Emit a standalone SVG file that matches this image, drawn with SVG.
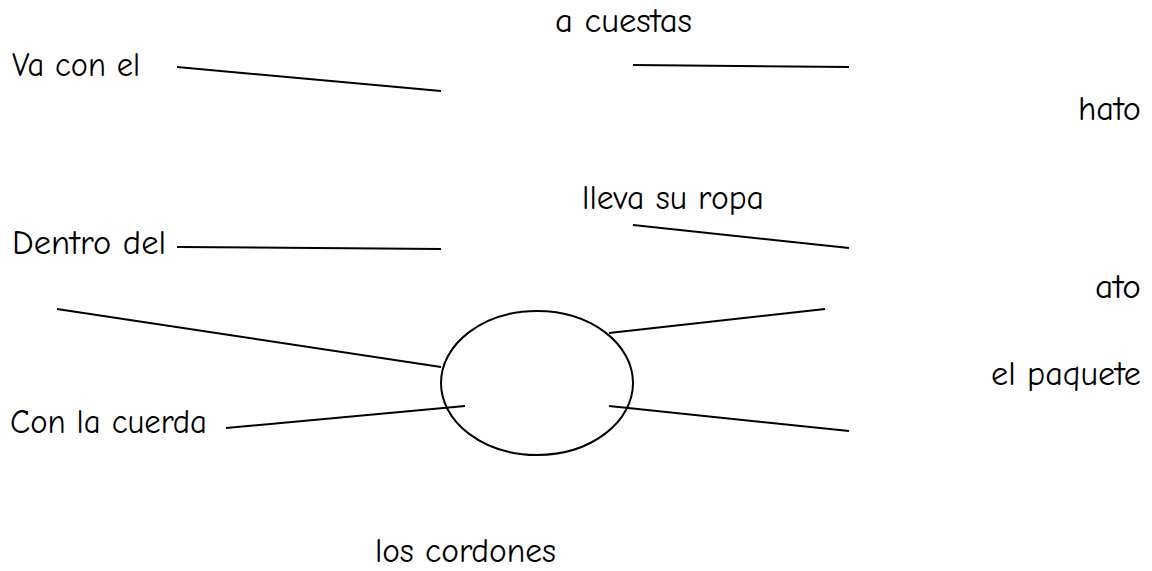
<svg xmlns="http://www.w3.org/2000/svg" width="1152" height="571" viewBox="0 0 1152 571">
<style>
.t{font-family:"Comic Sans MS","Comic Neue","DejaVu Sans",sans-serif;font-size:34px;fill:#000}
.c line{stroke:#000;stroke-width:2;stroke-linecap:butt}
.n ellipse{fill:none;stroke:#000;stroke-width:2}
</style>
<rect width="1152" height="571" fill="#fff"/>
<g id="labels">
<g id="va-con-el"><text class="t" x="12" y="76" textLength="128" lengthAdjust="spacingAndGlyphs">Va con el</text></g>
<g id="dentro-del"><text class="t" x="12" y="254" textLength="154" lengthAdjust="spacingAndGlyphs">Dentro del</text></g>
<g id="con-la-cuerda"><text class="t" x="10" y="433" textLength="197" lengthAdjust="spacingAndGlyphs">Con la cuerda</text></g>
<g id="a-cuestas"><text class="t" x="555" y="32" textLength="137" lengthAdjust="spacingAndGlyphs">a cuestas</text></g>
<g id="lleva-su-ropa"><text class="t" x="582" y="209" textLength="182" lengthAdjust="spacingAndGlyphs">lleva su ropa</text></g>
<g id="hato"><text class="t" x="1078" y="120" textLength="63" lengthAdjust="spacingAndGlyphs">hato</text></g>
<g id="ato"><text class="t" x="1095" y="298" textLength="46" lengthAdjust="spacingAndGlyphs">ato</text></g>
<g id="el-paquete"><text class="t" x="991" y="385" textLength="150" lengthAdjust="spacingAndGlyphs">el paquete</text></g>
<g id="los-cordones"><text class="t" x="375" y="562" textLength="181" lengthAdjust="spacingAndGlyphs">los cordones</text></g>
</g>
<g id="centre" class="n"><ellipse cx="537" cy="383" rx="96" ry="72"/></g>
<g id="connectors" class="c">
<line x1="177" y1="67" x2="441" y2="91"/>
<line x1="177" y1="247" x2="441" y2="249"/>
<line x1="633" y1="65" x2="849" y2="67"/>
<line x1="633" y1="225" x2="849" y2="248"/>
<line x1="57" y1="309" x2="441" y2="367"/>
<line x1="226" y1="428" x2="465" y2="406"/>
<line x1="609" y1="333" x2="825" y2="309"/>
<line x1="609" y1="406" x2="849" y2="431"/>
</g>
</svg>
